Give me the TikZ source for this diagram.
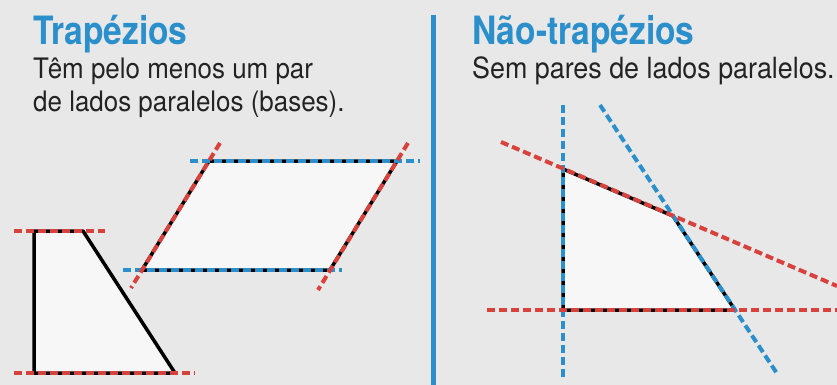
\documentclass[tikz,border=0pt]{standalone}
\usepackage{fontspec}
\setmainfont{TeX Gyre Heros}[FakeStretch=0.92]
\newfontfamily\fonttitulo{TeX Gyre Heros}[FakeStretch=0.86]
\definecolor{fundo}{HTML}{E8E8E8}
\definecolor{azul}{HTML}{2A8FCB}
\definecolor{vermelho}{HTML}{D8423D}
\definecolor{texto}{HTML}{232323}

\begin{document}
\begin{tikzpicture}[x=1pt, y=-1pt,
  titulo/.style={anchor=base west, inner sep=0pt, text=azul, font=\fonttitulo\bfseries\fontsize{39}{40}\selectfont},
  corpo/.style={anchor=base west, inner sep=0pt, text=texto, font=\fontsize{28.2}{33}\selectfont},
  figura/.style={fill=white!97!black, draw=black, line width=3.5pt, line join=round},
  linhav/.style={draw=vermelho, line width=4pt, dash pattern=on 8pt off 4pt},
  linhaa/.style={draw=azul, line width=4pt, dash pattern=on 8pt off 4pt}]
	\fill[fundo] (0,0) rectangle (837,385);
	\useasboundingbox (0,0) rectangle (837,385);

	% titles
	\node[titulo] (trap) at (33,45) {Trapézios};
	\node[corpo] (trapdef) at (33,79) {Têm pelo menos um par};
	\node[corpo] (trapdefb) at (33,112) {de lados paralelos (bases).};
	\node[titulo] (naotrap) at (472,45) {Não-trapézios};
	\node[corpo, font=\fontsize{29.2}{33}\selectfont] (naodef) at (472,79) {Sem pares de lados paralelos.};
	\draw[azul, line width=5pt] (433,15) -- (433,385);

	% trapezoid
	\coordinate (A) at (34,231);
	\coordinate (B) at (83,231);
	\coordinate (C) at (175,373);
	\coordinate (D) at (34,373);
	\draw[figura] (A) -- (B) -- (C) -- (D) -- cycle;
	\draw[linhav] (14,231) -- (105,231);
	\draw[linhav] (14,373) -- (195,373);

	% parallelogram
	\coordinate (P1) at (209,161);
	\coordinate (P2) at (397,161);
	\coordinate (P3) at (330,270);
	\coordinate (P4) at (142,270);
	\draw[figura] (P1) -- (P2) -- (P3) -- (P4) -- cycle;
	\draw[linhaa] (190,161) -- (420,161);
	\draw[linhaa] (123,270) -- (342,270);
	\draw[linhav] (220,143) -- (131,288);
	\draw[linhav] (408,143) -- (318,290);

	% not a trapezoid
	\coordinate (Q1) at (563,169);
	\coordinate (Q2) at (673,216);
	\coordinate (Q3) at (735,310);
	\coordinate (Q4) at (563,310);
	\draw[figura] (Q1) -- (Q2) -- (Q3) -- (Q4) -- cycle;
	\draw[linhaa] (563,105) -- (563,378);
	\draw[linhaa] (600,105) -- (778,375);
	\draw[linhav] (501,142) -- (837,286);
	\draw[linhav] (487,310) -- (837,310);
\end{tikzpicture}
\end{document}
